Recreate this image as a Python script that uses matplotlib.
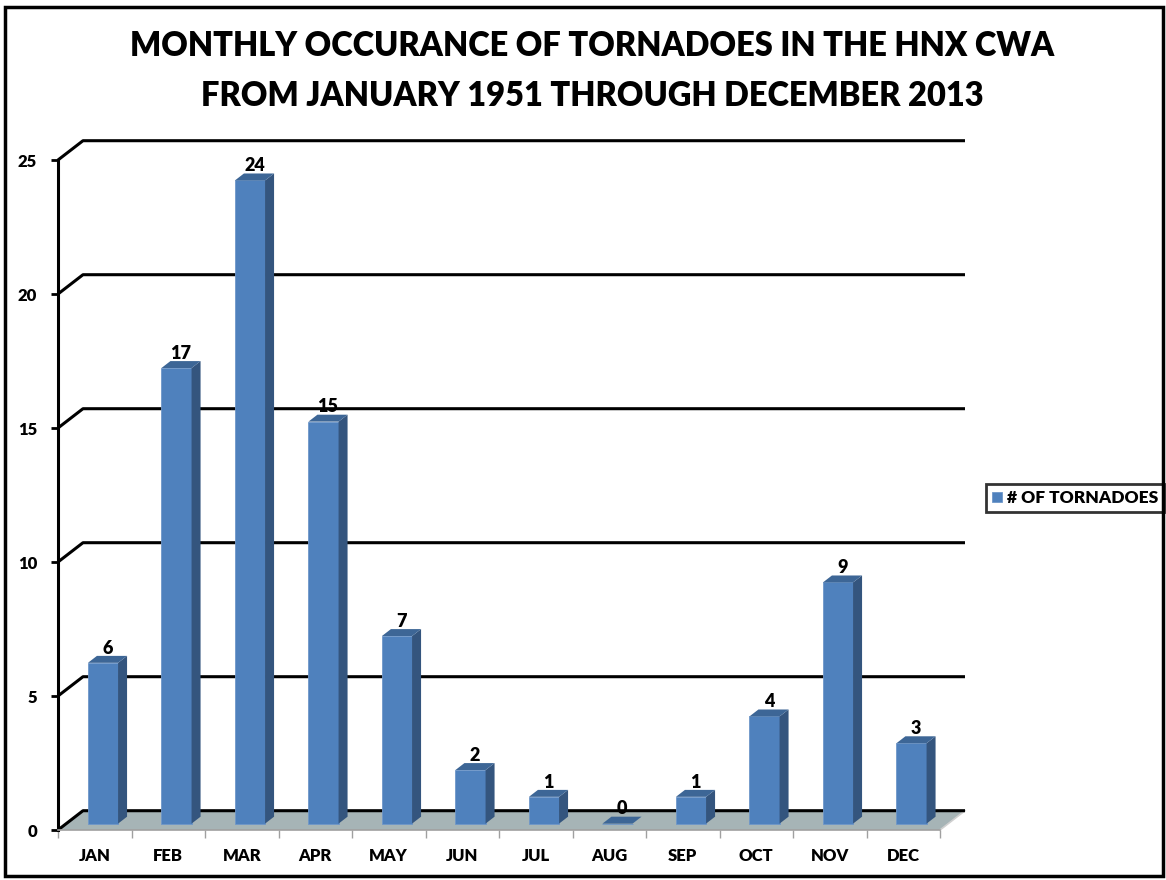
import numpy as np
import matplotlib.pyplot as plt
from matplotlib.patches import Polygon, Rectangle

months = ["JAN", "FEB", "MAR", "APR", "MAY", "JUN", "JUL", "AUG", "SEP", "OCT", "NOV", "DEC"]
tornadoes = [6, 17, 24, 15, 7, 2, 1, 0, 1, 4, 9, 3]
yticks = [0, 5, 10, 15, 20, 25]
series_name = "# OF TORNADOES"
title = "MONTHLY OCCURANCE OF TORNADOES IN THE HNX CWA\nFROM JANUARY 1951 THROUGH DECEMBER 2013"

plt.rcParams['font.family'] = ['Lato', 'DejaVu Sans']
plt.rcParams['font.weight'] = 'heavy'

FRONT = '#4f81bd'
SIDE = '#34557e'
TOP = '#3d6696'
FLOOR = '#a6b4b6'

# fake 3d: depth shift of the back wall in data units
DX, DY = 0.34, 0.72


def proj(x, y, d):
    return (x + d * DX, y + d * DY)


fig = plt.figure(figsize=(11.66, 8.8), dpi=100)
ax = fig.add_axes([58 / 1166, 50 / 880, 882 / 1166, 670 / 880])
n = len(months)
ax.set_xlim(0, n)
ax.set_ylim(0, 25)

# floor
floor = Polygon([proj(0, 0, 0), proj(n, 0, 0), proj(n, 0, 1), proj(0, 0, 1)],
                closed=True, facecolor=FLOOR, edgecolor='none', zorder=1, clip_on=False)
ax.add_patch(floor)
ax.plot(*zip(proj(n, 0, 0), proj(n, 0, 1)), color='#d0d0d0', lw=1.2, zorder=1, clip_on=False)

# gridlines: left side wall + back wall
for yv in yticks:
    pts = [proj(0, yv, 0), proj(0, yv, 1), proj(n, yv, 1)]
    ax.plot(*zip(*pts), color='black', lw=2.2, zorder=2, clip_on=False, solid_capstyle='butt')

# bars
w = 0.41
d0, d1 = 0.33, 0.69
centers = np.arange(n) + 0.5
bars = ax.bar(centers + d0 * DX, tornadoes, width=w, bottom=d0 * DY, color=FRONT,
              edgecolor='#6f97c9', linewidth=0.6, zorder=4, label=series_name, clip_on=False)
for c, v in zip(centers, tornadoes):
    side = [proj(c + w / 2, 0, d0), proj(c + w / 2, 0, d1), proj(c + w / 2, v, d1), proj(c + w / 2, v, d0)]
    top = [proj(c - w / 2, v, d0), proj(c + w / 2, v, d0), proj(c + w / 2, v, d1), proj(c - w / 2, v, d1)]
    ax.add_patch(Polygon(side, closed=True, facecolor=SIDE, edgecolor='none', zorder=4, clip_on=False))
    ax.add_patch(Polygon(top, closed=True, facecolor=TOP, edgecolor='none', zorder=4, clip_on=False))
    lx, ly = proj(c, v, (d0 + d1) / 2)
    ax.annotate(str(v), (lx, ly), xytext=(0, 2), textcoords='offset points',
                ha='center', va='bottom', fontsize=13, fontweight='heavy', zorder=6)

# axes
for s in ['top', 'right']:
    ax.spines[s].set_visible(False)
ax.spines['left'].set_linewidth(2.2)
ax.spines['bottom'].set_color('#a0a0a0')
ax.spines['bottom'].set_linewidth(1.2)
ax.spines['bottom'].set_zorder(3)
ax.set_yticks(yticks)
ax.tick_params(axis='y', direction='out', length=5, width=2, labelsize=12, pad=10)
ax.set_xticks(np.arange(n + 1))
ax.set_xticklabels([])
ax.tick_params(axis='x', which='major', direction='out', length=6, width=1, color='#a0a0a0')
ax.set_xticks(centers, minor=True)
ax.set_xticklabels(months, minor=True)
ax.tick_params(axis='x', which='minor', length=0, labelsize=12, pad=13)
for lab in ax.get_yticklabels() + ax.get_xticklabels(minor=True):
    lab.set_fontweight('heavy')
ax.patch.set_visible(False)

leg = ax.legend(handles=[bars], loc='center', bbox_to_anchor=(0.922, 0.434),
                bbox_transform=fig.transFigure, fancybox=False, edgecolor='black',
                prop={'size': 12.5, 'weight': 'heavy'}, handlelength=0.55, handleheight=0.55,
                handletextpad=0.3, borderpad=0.35, borderaxespad=0)
leg.get_frame().set_linewidth(2)

fig.text(0.508, 1 - 71 / 880, title, ha='center', va='center', fontsize=23.5,
         fontweight='heavy', linespacing=1.7)

fig.patches.append(Rectangle((0.004, 0.004), 0.993, 0.988, transform=fig.transFigure,
                             fill=False, edgecolor='black', lw=2.5))

fig.savefig('out.png', dpi=100)
